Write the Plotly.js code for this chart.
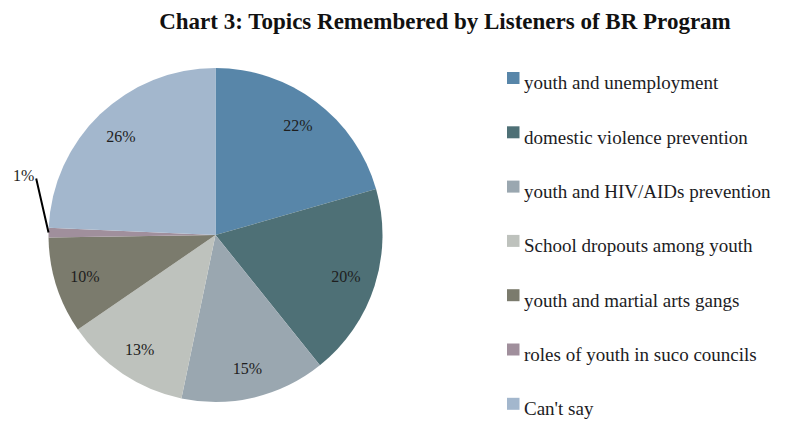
<!DOCTYPE html>
<html>
<head>
<meta charset="utf-8">
<script src="https://cdn.plot.ly/plotly-3.0.1.min.js"></script>
<style>html,body{margin:0;padding:0;background:#fff;}#chart{width:797px;height:422px;}</style>
</head>
<body>
<div id="chart"></div>
<script>
// ---- data ----
const topics = [
  "youth and unemployment",
  "domestic violence prevention",
  "youth and HIV/AIDs prevention",
  "School dropouts among youth",
  "youth and martial arts gangs",
  "roles of youth in suco councils",
  "Can't say"
];
const percents = [22, 20, 15, 13, 10, 1, 26];
const sliceColors = ["#5886a9", "#4e7076", "#9aa7b0", "#bec2bd", "#7b7b6d", "#a08f9c", "#a3b7cd"];

const W = 797, H = 422;
const dom = {x: [48.5 / W, 382.5 / W], y: [20 / H, 354 / H]};
const FONT = "Liberation Serif, DejaVu Serif, serif";
const labelsTxt = percents.map(p => p + "%");

// main pie
const pie = {
  type: "pie",
  labels: topics,
  values: percents,
  sort: false,
  direction: "clockwise",
  rotation: 0,
  marker: {colors: sliceColors, line: {width: 0}},
  textinfo: "none",
  domain: dom,
  showlegend: false,
  hoverinfo: "label+text",
  text: labelsTxt
};
// overlay ring that only carries the inside labels (places them near the rim)
const labelRing = {
  type: "pie",
  labels: topics,
  values: percents,
  sort: false,
  direction: "clockwise",
  rotation: 0,
  hole: 0.64,
  marker: {colors: sliceColors.map(() => "rgba(0,0,0,0)"), line: {width: 0}},
  text: labelsTxt.map((t, i) => percents[i] < 3 ? "" : t),
  textinfo: "text",
  textposition: "inside",
  insidetextorientation: "horizontal",
  insidetextfont: {family: FONT, size: 16, color: "#1e1e1e"},
  domain: dom,
  showlegend: false,
  hoverinfo: "skip"
};

// manual legend built from the arrays
const shapes = [], annotations = [];
const legTop = 83, legStep = 54.3;
topics.forEach((t, i) => {
  const yc = legTop + i * legStep;
  shapes.push({type: "rect", xref: "paper", yref: "paper",
    x0: 507 / W, x1: 519.5 / W, y0: 1 - (yc + 1) / H, y1: 1 - (yc - 11) / H,
    fillcolor: sliceColors[i], line: {width: 0}});
  annotations.push({xref: "paper", yref: "paper", x: 522 / W, y: 1 - yc / H,
    xanchor: "left", yanchor: "middle", text: t, showarrow: false,
    font: {family: FONT, size: 19, color: "#1c1c24"}});
});

// small-slice label with leader line
(function(){
  const total = percents.reduce((a, b) => a + b, 0);
  const cx = (dom.x[0] + dom.x[1]) / 2 * W;
  const cy = (1 - (dom.y[0] + dom.y[1]) / 2) * H;
  const r = Math.min((dom.x[1] - dom.x[0]) * W, (dom.y[1] - dom.y[0]) * H) / 2;
  let cum = 0;
  percents.forEach((p, i) => {
    const a0 = cum / total; cum += p;
    if (p >= 3) return;
    const ang = (a0 + p / total * 0.5) * 2 * Math.PI;
    const tx = cx + r * Math.sin(ang), ty = cy - r * Math.cos(ang);
    annotations.push({xref: "paper", yref: "paper", x: tx / W, y: 1 - ty / H,
      ax: -13, ay: -57, axref: "pixel", ayref: "pixel",
      text: labelsTxt[i], showarrow: true, arrowhead: 0, arrowwidth: 2, arrowcolor: "#000",
      xanchor: "right", yanchor: "middle", startstandoff: 3, standoff: 0,
      font: {family: FONT, size: 16, color: "#1e1e1e"}});
  });
})();

const layout = {
  width: W, height: H,
  margin: {l: 0, r: 0, t: 0, b: 0},
  paper_bgcolor: "#fff",
  title: {text: "<b>Chart 3: Topics Remembered by Listeners of BR Program</b>",
    x: 445 / W, xanchor: "center", y: 1 - 21 / H, yanchor: "middle", yref: "container",
    font: {family: FONT, size: 23, color: "#111"}},
  shapes: shapes,
  annotations: annotations,
  showlegend: false
};
Plotly.newPlot("chart", [pie, labelRing], layout, {displayModeBar: false, staticPlot: false});
</script>
</body>
</html>
